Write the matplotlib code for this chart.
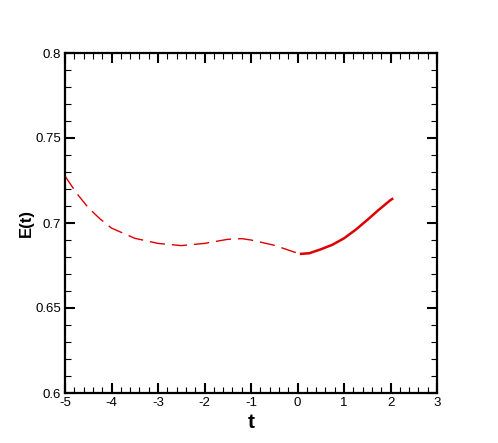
import matplotlib
matplotlib.use("Agg")
import matplotlib.pyplot as plt
from matplotlib.ticker import MultipleLocator, FuncFormatter

# dashed (t < 0) branch
t_dash = [-5.0, -4.75, -4.5, -4.25, -4.0, -3.5, -3.0, -2.5, -2.0, -1.5, -1.2, -1.0, -0.5, 0.05]
e_dash = [0.7276, 0.7175, 0.709, 0.7025, 0.697, 0.691, 0.688, 0.6867, 0.688, 0.6904, 0.6908, 0.690, 0.6869, 0.6818]
# solid (t > 0) branch
t_solid = [0.05, 0.25, 0.5, 0.75, 1.0, 1.25, 1.5, 1.75, 2.0, 2.06]
e_solid = [0.6818, 0.6822, 0.6845, 0.6872, 0.691, 0.696, 0.7018, 0.7078, 0.7135, 0.7145]

x_ticks = [-5, -4, -3, -2, -1, 0, 1, 2, 3]
y_ticks = [0.6, 0.65, 0.7, 0.75, 0.8]

plt.rcParams['font.family'] = ['Liberation Sans', 'DejaVu Sans']

fig = plt.figure(figsize=(4.98, 4.43), dpi=100)
ax = fig.add_axes([65/498, 50/443, 372/498, 340/443])

color = '#dd0000'
ax.plot(t_dash, e_dash, color=color, lw=1.0, linestyle=(0, (11, 5)))
ax.plot(t_solid, e_solid, color=color, lw=1.8, solid_capstyle='butt')

ax.set_xlim(-5, 3)
ax.set_ylim(0.6, 0.8)
ax.set_xticks(x_ticks)
ax.set_yticks(y_ticks)
ax.xaxis.set_minor_locator(MultipleLocator(0.2))
ax.yaxis.set_minor_locator(MultipleLocator(0.01))
ax.xaxis.set_major_formatter(FuncFormatter(lambda v, p: f"{v:g}"))
ax.yaxis.set_major_formatter(FuncFormatter(lambda v, p: f"{v:g}"))

ax.tick_params(which='both', direction='in', top=True, right=True, labelsize=9.5, pad=3)
ax.tick_params(which='major', length=7, width=1.5)
ax.tick_params(which='minor', length=4, width=0.8)
for s in ax.spines.values():
    s.set_linewidth(1.6)

ax.set_xlabel('t', fontsize=15, fontweight='bold', labelpad=3)
ax.set_ylabel('E(t)', fontsize=12, fontweight='bold', labelpad=1)

fig.savefig('out.png', dpi=100)
